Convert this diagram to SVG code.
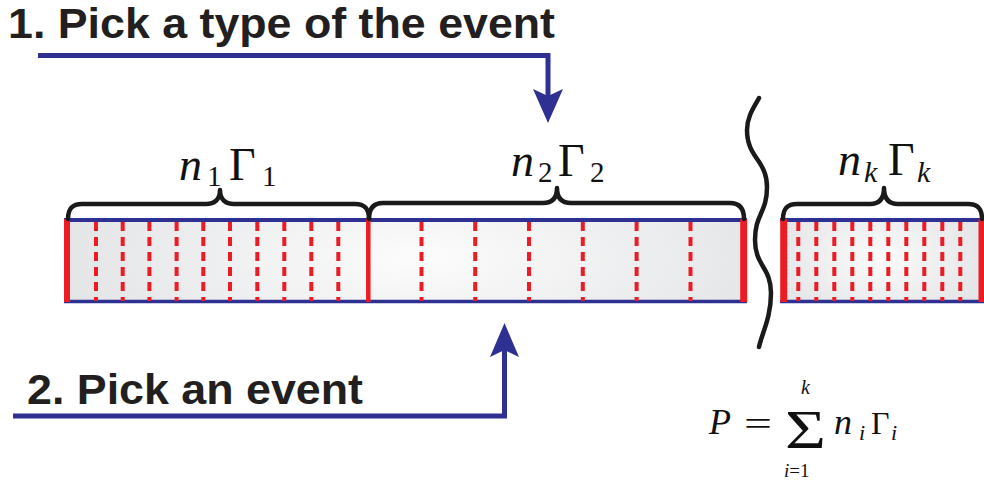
<svg xmlns="http://www.w3.org/2000/svg" width="984" height="482" viewBox="0 0 984 482">
<defs>
<radialGradient id="g1" gradientUnits="userSpaceOnUse" cx="420" cy="258" r="360" gradientTransform="translate(420 258) scale(1 0.35) translate(-420 -258)">
<stop offset="0" stop-color="#fcfcfc"/><stop offset="1" stop-color="#e4e5e7"/>
</radialGradient>
<radialGradient id="g2" gradientUnits="userSpaceOnUse" cx="880" cy="258" r="110" gradientTransform="translate(880 258) scale(1 0.6) translate(-880 -258)">
<stop offset="0" stop-color="#fbfbfb"/><stop offset="1" stop-color="#e4e5e7"/>
</radialGradient>
</defs>
<style>
.title{font-family:"Liberation Sans",Arial,sans-serif;font-weight:bold;font-size:42px;fill:#231f20}
.math{font-family:"Liberation Serif","Times New Roman",serif;fill:#111}
.it{font-style:italic}
.blue{stroke:#2e3192;fill:none}
.arrow{stroke:#2e3192;stroke-width:5;fill:none}
.head{fill:#2e3192}
.solid{stroke:#ed1c24;fill:none}
.dash{stroke:#ed1c24;stroke-width:4;stroke-dasharray:9 6;fill:none}
.brace{stroke:#1a1a1a;stroke-width:4.5;fill:none;stroke-linecap:round;stroke-linejoin:round}
</style>

<g id="label-step1"><text class="title" x="8" y="38" textLength="547" lengthAdjust="spacingAndGlyphs">1. Pick a type of the event</text></g>
<g id="label-step2"><text class="title" x="27" y="404" textLength="336" lengthAdjust="spacingAndGlyphs">2. Pick an event</text></g>

<g id="bar-main">
<rect x="65" y="220" width="681" height="82" fill="url(#g1)"/>
<line class="blue" x1="64" y1="220" x2="747" y2="220" stroke-width="4"/>
<line class="blue" x1="64" y1="301.5" x2="747" y2="301.5" stroke-width="3.5"/>
</g>

<g id="segment-1">
<line class="solid" x1="67" y1="219" x2="67" y2="302" stroke-width="6"/>
<g class="dash">
<line x1="96" y1="222" x2="96" y2="301"/>
<line x1="122.7" y1="222" x2="122.7" y2="301"/>
<line x1="149.4" y1="222" x2="149.4" y2="301"/>
<line x1="176.6" y1="222" x2="176.6" y2="301"/>
<line x1="203.3" y1="222" x2="203.3" y2="301"/>
<line x1="230" y1="222" x2="230" y2="301"/>
<line x1="257.3" y1="222" x2="257.3" y2="301"/>
<line x1="284.3" y1="222" x2="284.3" y2="301"/>
<line x1="311.3" y1="222" x2="311.3" y2="301"/>
<line x1="338.3" y1="222" x2="338.3" y2="301"/>
</g>
<path class="brace" d="M68,219 C68,209 72,204 82,204 L206,204 C214,204 220,200 220,190 C220,200 226,204 234,204 L355,204 C365,204 369,209 369,219"/>
<text class="math it" font-size="46" x="179" y="180">n</text>
<text class="math" font-size="29" x="207" y="186">1</text>
<text class="math" font-size="46" x="229" y="180">Γ</text>
<text class="math" font-size="29" x="262" y="186">1</text>
</g>

<g id="segment-2">
<line class="solid" x1="368.3" y1="219" x2="368.3" y2="302" stroke-width="4.5"/>
<line class="solid" x1="743.7" y1="219" x2="743.7" y2="302" stroke-width="7"/>
<g class="dash">
<line x1="421.5" y1="222" x2="421.5" y2="301"/>
<line x1="475.2" y1="222" x2="475.2" y2="301"/>
<line x1="529" y1="222" x2="529" y2="301"/>
<line x1="582.8" y1="222" x2="582.8" y2="301"/>
<line x1="636.6" y1="222" x2="636.6" y2="301"/>
<line x1="690.5" y1="222" x2="690.5" y2="301"/>
</g>
<path class="brace" d="M369,219 C369,209 373,203 383,203 L543,203 C551,203 557,199 557,188 C557,199 563,203 571,203 L730,203 C740,203 744,209 744,219"/>
<text class="math it" font-size="46" x="511" y="176">n</text>
<text class="math" font-size="29" x="538" y="182">2</text>
<text class="math" font-size="46" x="558" y="176">Γ</text>
<text class="math" font-size="29" x="590" y="182">2</text>
</g>

<g id="break">
<path class="brace" stroke-width="5" d="M759,98 C755,106 747,116 747,130 C747,158 767,160 767,187 C767,213 755,214 755,240 C755,266 771,267 771,293 C771,318 762,333 759,347"/>
</g>

<g id="segment-k">
<rect x="781" y="220" width="203" height="82" fill="url(#g2)"/>
<line class="blue" x1="780" y1="220" x2="984" y2="220" stroke-width="4"/>
<line class="blue" x1="780" y1="301.5" x2="984" y2="301.5" stroke-width="3.5"/>
<line class="solid" x1="783.7" y1="219" x2="783.7" y2="302" stroke-width="7"/>
<line class="solid" x1="981.5" y1="219" x2="981.5" y2="302" stroke-width="6"/>
<g class="dash" stroke-dasharray="8 6.5">
<line x1="798.3" y1="222" x2="798.3" y2="301"/>
<line x1="816.3" y1="222" x2="816.3" y2="301"/>
<line x1="834.3" y1="222" x2="834.3" y2="301"/>
<line x1="852.3" y1="222" x2="852.3" y2="301"/>
<line x1="870.3" y1="222" x2="870.3" y2="301"/>
<line x1="888.3" y1="222" x2="888.3" y2="301"/>
<line x1="906.3" y1="222" x2="906.3" y2="301"/>
<line x1="924.3" y1="222" x2="924.3" y2="301"/>
<line x1="942.3" y1="222" x2="942.3" y2="301"/>
<line x1="960.3" y1="222" x2="960.3" y2="301"/>
</g>
<path class="brace" d="M783,219 C783,209 787,204 797,204 L870,204 C878,204 884,200 884,188 C884,200 890,204 898,204 L968,204 C978,204 982,209 982,219"/>
<text class="math it" font-size="46" x="838" y="175">n</text>
<text class="math it" font-size="30" x="864" y="182">k</text>
<text class="math" font-size="46" x="888" y="175">Γ</text>
<text class="math it" font-size="30" x="917" y="182">k</text>
</g>

<g id="formula">
<text class="math it" font-size="36" x="709" y="434">P</text>
<text class="math" font-size="34" x="744" y="435" textLength="28" lengthAdjust="spacingAndGlyphs">=</text>
<text class="math" font-size="54" x="785" y="448" textLength="41" lengthAdjust="spacingAndGlyphs">Σ</text>
<text class="math it" font-size="20" x="801" y="394">k</text>
<text class="math" font-size="19" x="784" y="477"><tspan class="it">i</tspan>=1</text>
<text class="math it" font-size="36" x="834" y="434">n</text>
<text class="math it" font-size="22" x="859" y="440">i</text>
<text class="math" font-size="32" x="871" y="434">Γ</text>
<text class="math it" font-size="22" x="891" y="440">i</text>
</g>

<g id="connectors">
<path class="arrow" d="M38,55.5 H548 V96"/>
<path class="head" d="M548,123 L533,89 L548,96 L563,89 Z"/>
<path class="arrow" d="M13,416 H504.5 V350"/>
<path class="head" d="M504.5,323 L490,357 L504.5,350 L519,357 Z"/>
</g>
</svg>
